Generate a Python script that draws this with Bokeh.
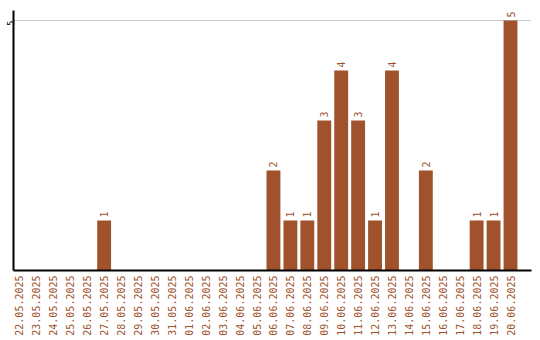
import math
from bokeh.plotting import figure
from bokeh.models import Range1d, FixedTicker, ColumnDataSource
from bokeh.core.properties import value
from bokeh.embed import file_html
from bokeh.resources import INLINE

dates = ["22.05.2025", "23.05.2025", "24.05.2025", "25.05.2025", "26.05.2025",
         "27.05.2025", "28.05.2025", "29.05.2025", "30.05.2025", "31.05.2025",
         "01.06.2025", "02.06.2025", "03.06.2025", "04.06.2025", "05.06.2025",
         "06.06.2025", "07.06.2025", "08.06.2025", "09.06.2025", "10.06.2025",
         "11.06.2025", "12.06.2025", "13.06.2025", "14.06.2025", "15.06.2025",
         "16.06.2025", "17.06.2025", "18.06.2025", "19.06.2025", "20.06.2025"]
counts = [0, 0, 0, 0, 0, 1, 0, 0, 0, 0, 0, 0, 0, 0, 0,
          2, 1, 1, 3, 4, 3, 1, 4, 0, 2, 0, 0, 1, 1, 5]
y_ticks = [5]

BROWN = "#A0522D"
FONT = "DejaVu Sans Mono"

idx = list(range(len(dates)))
src = ColumnDataSource(dict(x=idx, y=counts))
nz = [i for i in idx if counts[i] > 0]
lab = ColumnDataSource(dict(x=nz, y=[counts[i] for i in nz], t=[str(counts[i]) for i in nz]))

p = figure(width=540, height=340, output_backend="svg", toolbar_location=None,
           x_range=Range1d(-0.353, 30.24), y_range=Range1d(0, 5.2),
           min_border_left=10, min_border_right=9, min_border_top=10, min_border_bottom=70)
p.outline_line_color = None
p.background_fill_color = "white"

p.vbar(x="x", top="y", width=0.82, source=src, fill_color=BROWN, line_color=None)
p.text(x="x", y="y", text="t", source=lab, angle=math.pi / 2, text_align="left",
       text_baseline="middle", y_offset=-3, text_color=BROWN,
       text_font=value(FONT), text_font_size="10px")

p.xaxis.ticker = FixedTicker(ticks=idx)
p.xaxis.major_label_overrides = {i: d for i, d in enumerate(dates)}
p.xaxis.major_label_orientation = math.pi / 2
p.xaxis.major_label_text_color = BROWN
p.xaxis.major_label_text_font = FONT
p.xaxis.major_label_text_font_size = "10px"
p.xaxis.major_tick_line_color = None
p.xaxis.minor_tick_line_color = None
p.xaxis.major_tick_out = 0
p.xaxis.major_tick_in = 0
p.xaxis.minor_tick_out = 0
p.xaxis.axis_line_color = "black"
p.xaxis.axis_line_width = 2
p.xaxis.major_label_standoff = 5

p.yaxis.ticker = FixedTicker(ticks=y_ticks)
p.yaxis.major_label_orientation = math.pi / 2
p.yaxis.major_label_text_color = "black"
p.yaxis.major_label_text_font = FONT
p.yaxis.major_label_text_font_size = "9px"
p.yaxis.major_label_text_baseline = "middle"
p.yaxis.major_tick_line_color = None
p.yaxis.minor_tick_line_color = None
p.yaxis.major_tick_out = 0
p.yaxis.major_tick_in = 0
p.yaxis.minor_tick_out = 0
p.yaxis.axis_line_color = "black"
p.yaxis.axis_line_width = 2
p.yaxis.major_label_standoff = 3

p.xgrid.grid_line_color = None
p.ygrid.grid_line_color = "#cccccc"
p.ygrid.grid_line_width = 1

open("out.html", "w").write(file_html(p, INLINE))
